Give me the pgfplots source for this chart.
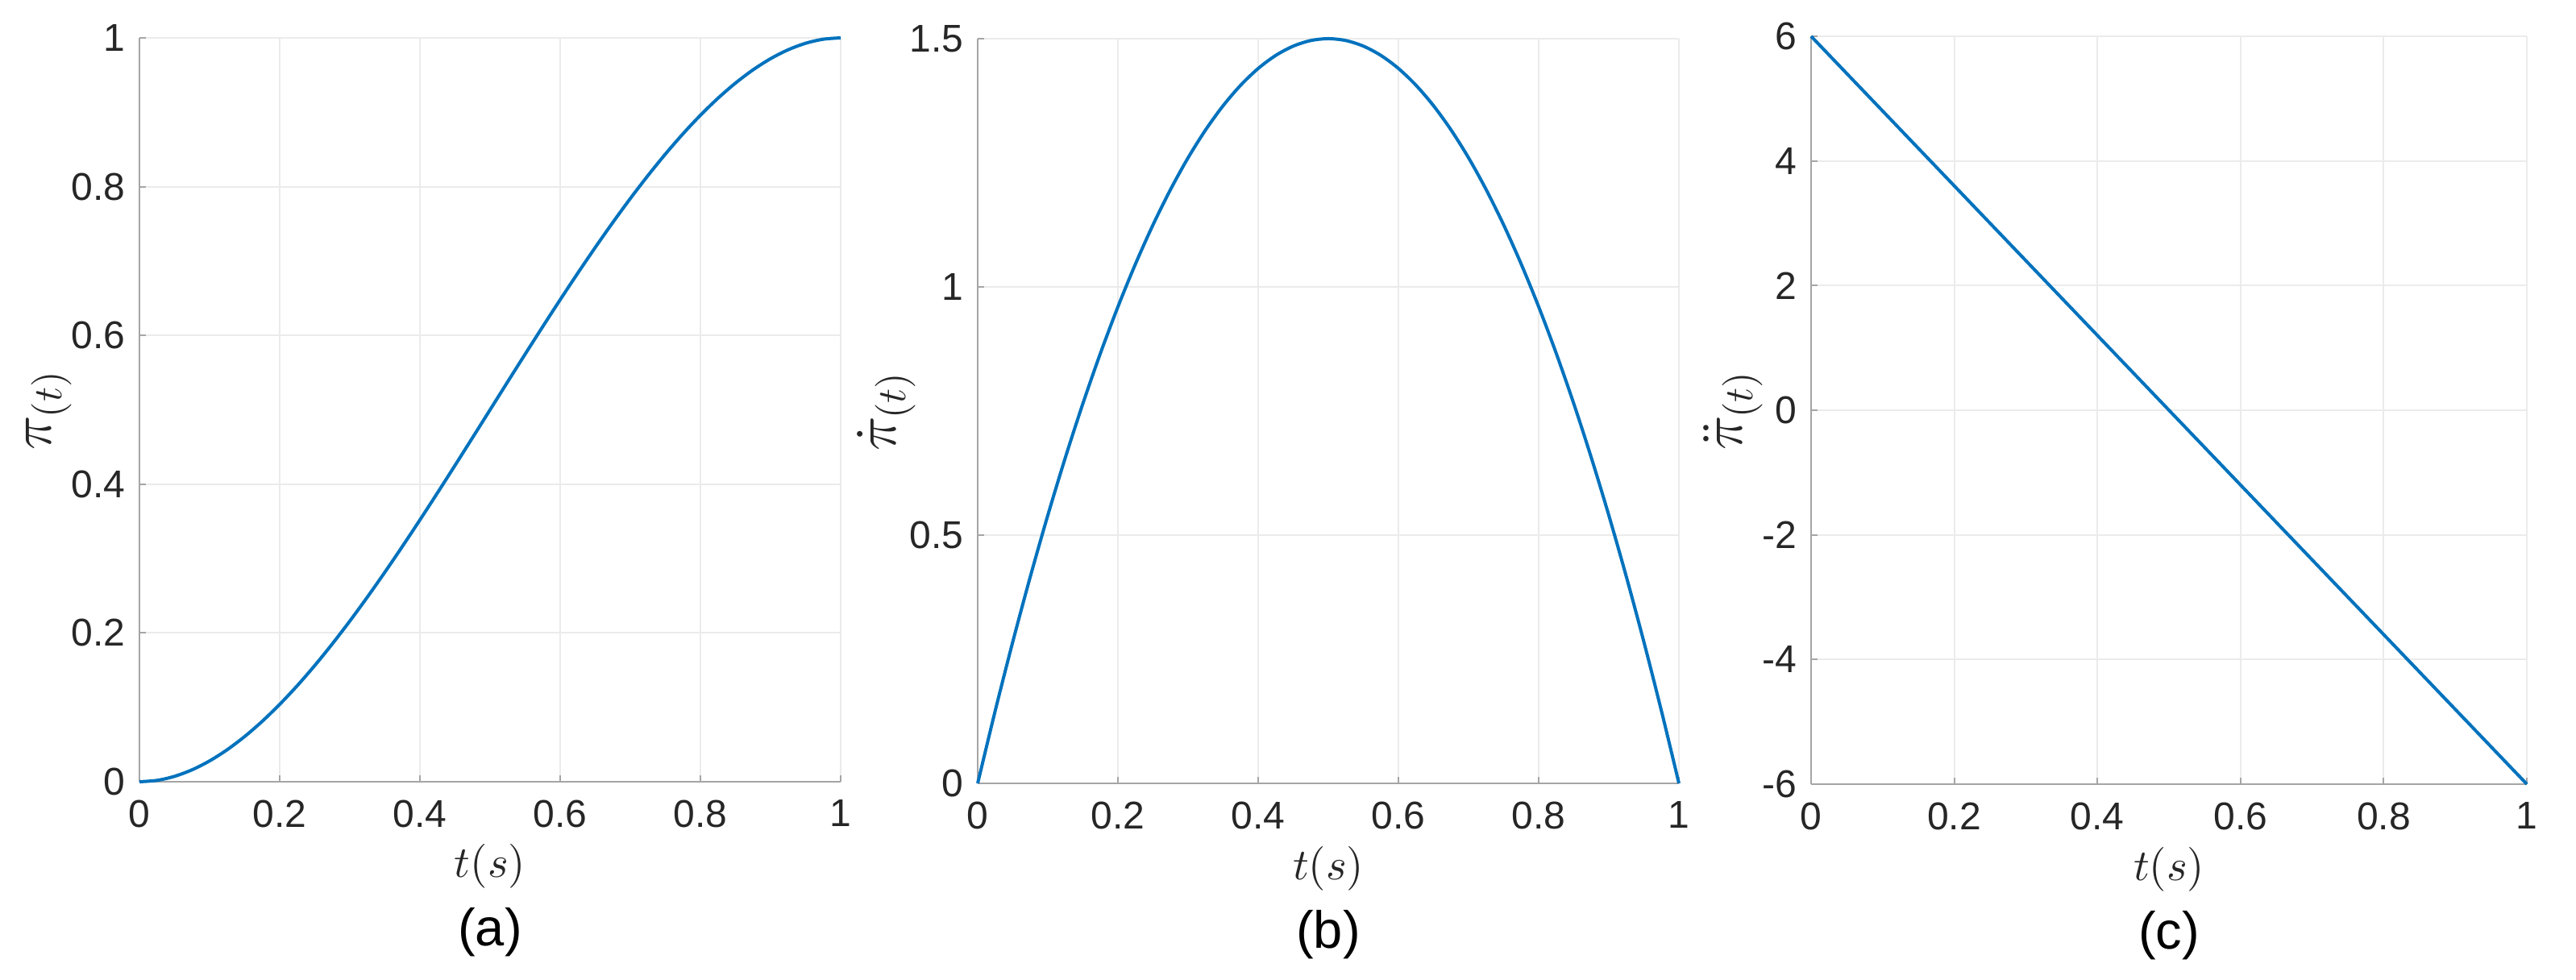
\documentclass[border=0pt]{standalone}
\usepackage[no-math]{fontspec}
\setmainfont{Liberation Sans}
\usepackage{pgfplots}
\pgfplotsset{compat=1.18}
\definecolor{matblue}{rgb}{0,0.447,0.741}
\definecolor{axgray}{RGB}{165,165,165}
\definecolor{gridgray}{RGB}{235,235,235}
\definecolor{txt}{rgb}{0.15,0.15,0.15}
\pgfplotsset{myax/.style={
  scale only axis,
  axis x line=bottom, axis y line=left,
  axis line style={-, draw=axgray, line width=0.4pt},
  xmin=0, xmax=1, xtick={0,0.2,0.4,0.6,0.8,1},
  grid=major, grid style={draw=gridgray, line width=0.4pt},
  tick align=inside, major tick length=1.6pt,
  tick style={draw=axgray, line width=0.4pt},
  ticklabel style={font=\fontsize{9.6}{11}\selectfont, text=txt},
  xticklabel style={yshift=-1.0pt},
  /pgf/number format/assume math mode=true,
  xlabel={$t(s)$},
  xlabel style={at={(axis description cs:0.5,-0.114)}, anchor=center, font=\fontsize{10.6}{12}\selectfont, text=txt},
  ylabel style={anchor=center, font=\fontsize{14}{16}\selectfont, text=txt},
  clip=false,
}}
\begin{document}
\begin{tikzpicture}
\useasboundingbox (0,0) rectangle (639.2pt,243.2pt);
% (a)
\begin{axis}[myax, at={(34.6pt,49.2pt)}, anchor=south west, width=174pt, height=184.6pt,
  ymin=0, ymax=1, ytick={0,0.2,0.4,0.6,0.8,1},
  ylabel={$\pi_{(t)}$}, ylabel style={at={(axis description cs:-0.129,0.5)}}]
\addplot[matblue, line width=0.8pt, smooth] coordinates {
(0,0) (0.025,0.00184) (0.05,0.00725) (0.075,0.01603) (0.1,0.028) (0.125,0.04297)
(0.15,0.06075) (0.175,0.08116) (0.2,0.104) (0.225,0.12909) (0.25,0.15625) (0.275,0.18528)
(0.3,0.216) (0.325,0.24822) (0.35,0.28175) (0.375,0.31641) (0.4,0.352) (0.425,0.38834)
(0.45,0.42525) (0.475,0.46253) (0.5,0.5) (0.525,0.53747)
(0.55,0.57475) (0.575,0.61166) (0.6,0.648) (0.625,0.68359) (0.65,0.71825) (0.675,0.75178)
(0.7,0.784) (0.725,0.81472) (0.75,0.84375)
(0.775,0.87091) (0.8,0.896) (0.825,0.91884) (0.85,0.93925) (0.875,0.95703) (0.9,0.972)
(0.925,0.98397) (0.95,0.99275) (0.975,0.99816) (1,1)};
\node[font=\fontsize{13}{15}\selectfont, text=black] at (axis description cs:0.5,-0.2026) {(a)};
\end{axis}
% (b)
\begin{axis}[myax, at={(242.6pt,48.8pt)}, anchor=south west, width=174pt, height=184.8pt,
  ymin=0, ymax=1.5, ytick={0,0.5,1,1.5},
  ylabel={$\dot{\pi}_{(t)}$}, ylabel style={at={(axis description cs:-0.13,0.5)}}]
\addplot[matblue, line width=0.8pt, smooth] coordinates {
(0,0) (0.025,0.14625) (0.05,0.285) (0.075,0.41625) (0.1,0.54) (0.125,0.65625)
(0.15,0.765) (0.175,0.86625) (0.2,0.96) (0.225,1.04625) (0.25,1.125)
(0.275,1.19625) (0.3,1.26) (0.325,1.31625) (0.35,1.365) (0.375,1.40625) (0.4,1.44)
(0.425,1.46625) (0.45,1.485) (0.475,1.49625) (0.5,1.5) (0.525,1.49625)
(0.55,1.485) (0.575,1.46625) (0.6,1.44) (0.625,1.40625) (0.65,1.365) (0.675,1.31625)
(0.7,1.26) (0.725,1.19625) (0.75,1.125) (0.775,1.04625)
(0.8,0.96) (0.825,0.86625) (0.85,0.765) (0.875,0.65625) (0.9,0.54) (0.925,0.41625)
(0.95,0.285) (0.975,0.14625) (1,0)};
\node[font=\fontsize{13}{15}\selectfont, text=black] at (axis description cs:0.5,-0.2026) {(b)};
\end{axis}
% (c)
\begin{axis}[myax, at={(449.4pt,48.6pt)}, anchor=south west, width=177.6pt, height=185.6pt,
  ymin=-6, ymax=6, ytick={-6,-4,-2,0,2,4,6},
  ylabel={$\ddot{\pi}_{(t)}$}, ylabel style={at={(axis description cs:-0.109,0.5)}}]
\addplot[matblue, line width=0.8pt] coordinates {(0,6) (0.5,0) (1,-6)};
\node[font=\fontsize{13}{15}\selectfont, text=black] at (axis description cs:0.5,-0.2026) {(c)};
\end{axis}
\end{tikzpicture}
\end{document}
